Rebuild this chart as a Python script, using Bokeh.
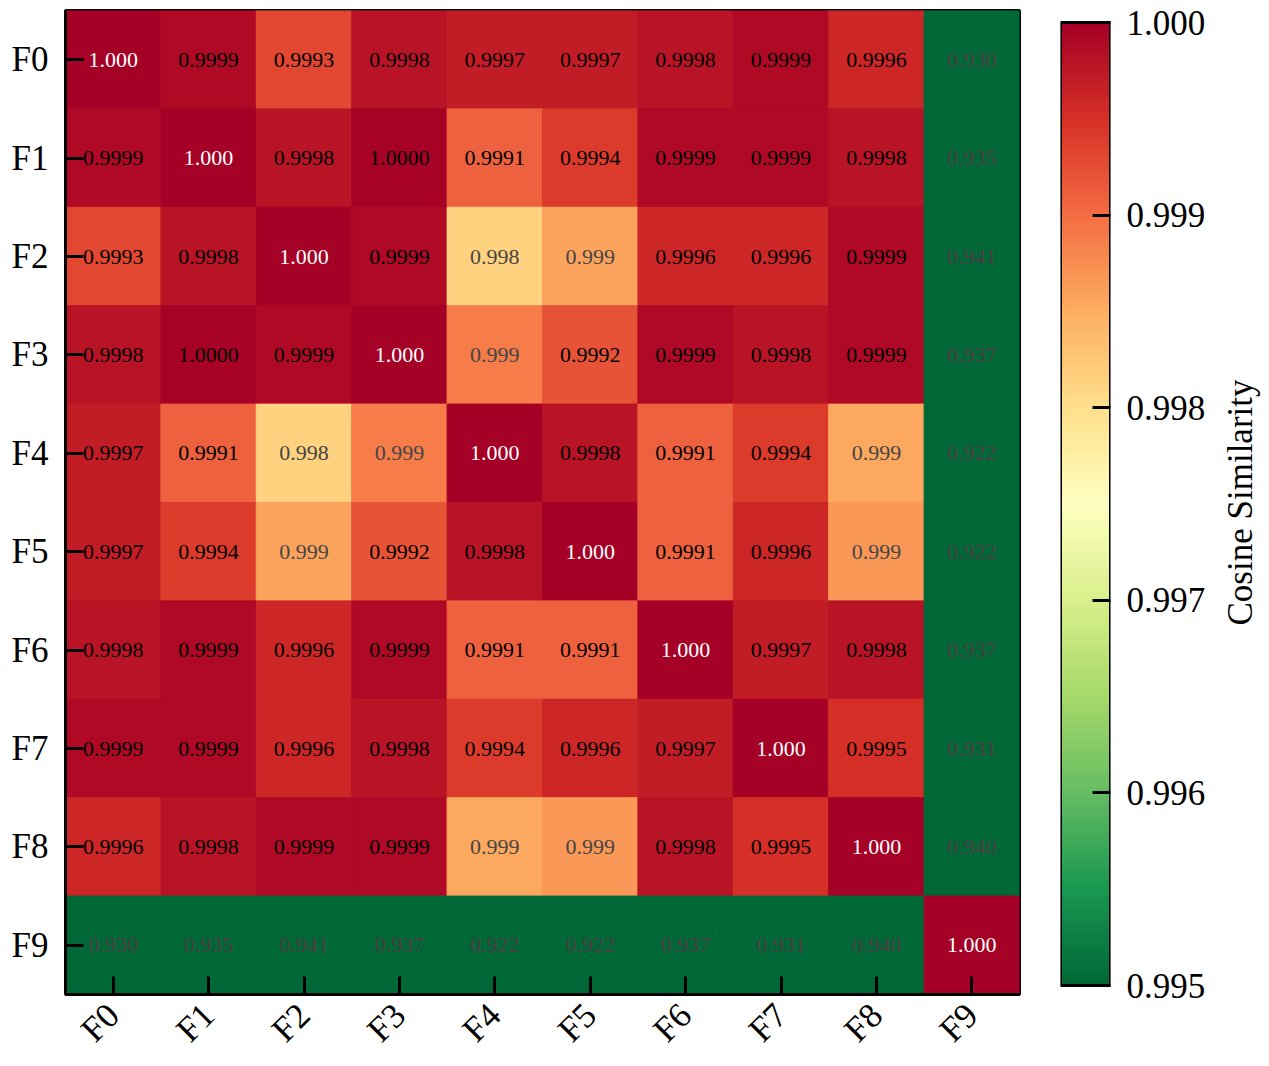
import numpy as np
from math import pi

from bokeh.plotting import figure
from bokeh.layouts import row
from bokeh.models import (ColumnDataSource, LinearColorMapper, FactorRange,
                          FixedTicker, Range1d)
from bokeh.transform import transform
from bokeh.core.properties import value
from bokeh.embed import file_html
from bokeh.resources import INLINE

# feature names
features = ["F0", "F1", "F2", "F3", "F4", "F5", "F6", "F7", "F8", "F9"]

# pairwise cosine similarity, one row per feature
sim_F0 = [1.0, 0.9999, 0.9993, 0.9998, 0.9997, 0.9997, 0.9998, 0.9999, 0.9996, 0.930]
sim_F1 = [0.9999, 1.0, 0.9998, 0.99997, 0.9991, 0.9994, 0.9999, 0.9999, 0.9998, 0.935]
sim_F2 = [0.9993, 0.9998, 1.0, 0.9999, 0.99813, 0.99858, 0.9996, 0.9996, 0.9999, 0.941]
sim_F3 = [0.9998, 0.99997, 0.9999, 1.0, 0.99888, 0.9992, 0.9999, 0.9998, 0.9999, 0.937]
sim_F4 = [0.9997, 0.9991, 0.99813, 0.99888, 1.0, 0.9998, 0.9991, 0.9994, 0.99855, 0.922]
sim_F5 = [0.9997, 0.9994, 0.99858, 0.9992, 0.9998, 1.0, 0.9991, 0.9996, 0.99866, 0.922]
sim_F6 = [0.9998, 0.9999, 0.9996, 0.9999, 0.9991, 0.9991, 1.0, 0.9997, 0.9998, 0.937]
sim_F7 = [0.9999, 0.9999, 0.9996, 0.9998, 0.9994, 0.9996, 0.9997, 1.0, 0.9995, 0.931]
sim_F8 = [0.9996, 0.9998, 0.9999, 0.9999, 0.99855, 0.99866, 0.9998, 0.9995, 1.0, 0.940]
sim_F9 = [0.930, 0.935, 0.941, 0.937, 0.922, 0.922, 0.937, 0.931, 0.940, 1.0]

# colour bar scale
cbar_low = 0.995
cbar_high = 1.0
cbar_ticks = [0.995, 0.996, 0.997, 0.998, 0.999, 1.000]
cbar_title = "Cosine Similarity"

matrix = [sim_F0, sim_F1, sim_F2, sim_F3, sim_F4, sim_F5, sim_F6, sim_F7, sim_F8, sim_F9]

# reversed RdYlGn, interpolated to a smooth 256-step palette
brewer = ['#006837', '#1a9850', '#66bd63', '#a6d96a', '#d9ef8b', '#ffffbf',
          '#fee08b', '#fdae61', '#f46d43', '#d73027', '#a50026']
rgb = np.array([[int(c[i:i + 2], 16) for i in (1, 3, 5)] for c in brewer], float)
pos = np.linspace(0, 1, len(brewer))
t = np.linspace(0, 1, 256)
palette = ["#%02x%02x%02x" % tuple(int(round(np.interp(tt, pos, rgb[:, k]))) for k in range(3))
           for tt in t]

mapper = LinearColorMapper(palette=palette, low=cbar_low, high=cbar_high,
                           low_color=palette[0], high_color=palette[-1])

xs, ys, vals, labels, tcolors = [], [], [], [], []
for i, rname in enumerate(features):
    for j, cname in enumerate(features):
        v = matrix[i][j]
        xs.append(cname)
        ys.append(rname)
        vals.append(v)
        if i == j:
            labels.append("1.000")
            tcolors.append("white")
        elif v >= 0.999:
            labels.append(f"{v:.4f}")
            tcolors.append("black")
        elif v >= 0.99:
            labels.append(f"{v:.3f}")
            tcolors.append("#454545")
        else:
            labels.append(f"{v:.3f}")
            tcolors.append("#4e3c44")

src = ColumnDataSource(dict(x=xs, y=ys, v=vals, label=labels, tc=tcolors))

SERIF = "Liberation Serif"
TOP, BOTTOM = 10, 72
H = 1066

p = figure(width=1040, height=H, output_backend="svg", toolbar_location=None,
           x_range=FactorRange(factors=features),
           y_range=FactorRange(factors=features[::-1]),
           min_border_left=65, min_border_right=21, min_border_top=TOP,
           min_border_bottom=BOTTOM)
p.rect(x="x", y="y", width=1, height=1, source=src,
       fill_color=transform("v", mapper), line_color=transform("v", mapper),
       line_width=1)
p.text(x="x", y="y", text="label", source=src, text_color="tc",
       text_align="center", text_baseline="middle",
       text_font=value(SERIF), text_font_size="22px")

p.grid.visible = False
p.outline_line_color = "black"
p.outline_line_width = 3
p.outline_line_alpha = 1
for ax in (p.xaxis[0], p.yaxis[0]):
    ax.axis_line_width = 3
    ax.axis_line_color = "black"
    ax.major_tick_line_width = 3
    ax.major_tick_line_color = "black"
    ax.major_tick_in = 18
    ax.major_tick_out = 0
    ax.minor_tick_line_color = None
    ax.major_label_text_font = SERIF
    ax.major_label_text_font_size = "35px"
    ax.major_label_text_color = "black"
p.yaxis.major_label_standoff = 17
p.xaxis.major_label_orientation = pi / 4
p.xaxis.major_label_standoff = 15

# colour bar drawn as its own narrow plot; its frame shares the heatmap's
# vertical extent, the bar itself sits slightly inset
bar_top_px, bar_bot_px = 22, 985
frame_top_px, frame_bot_px = TOP, H - BOTTOM
per_px = (cbar_high - cbar_low) / (bar_bot_px - bar_top_px)
cb = figure(width=175, height=H, output_backend="svg", toolbar_location=None,
            x_range=Range1d(0, 1),
            y_range=Range1d(cbar_low - (frame_bot_px - bar_bot_px) * per_px,
                            cbar_high + (bar_top_px - frame_top_px) * per_px),
            y_axis_location="right",
            min_border_left=20, min_border_right=105, min_border_top=TOP,
            min_border_bottom=BOTTOM)
grad = np.linspace(cbar_low, cbar_high, 512).reshape(512, 1)
cb.image(image=[grad], x=0, y=cbar_low, dw=1, dh=cbar_high - cbar_low,
         color_mapper=mapper)
cb.quad(left=0, right=1, bottom=cbar_low, top=cbar_high,
        fill_color=None, line_color="black", line_width=3)
cb.xaxis.visible = False
cb.grid.visible = False
cb.outline_line_color = None
ay = cb.yaxis[0]
ay.ticker = FixedTicker(ticks=cbar_ticks)
ay.major_label_overrides = {tk: f"{tk:.3f}" for tk in cbar_ticks}
ay.axis_line_color = None
ay.major_tick_line_width = 3
ay.major_tick_line_color = "black"
ay.major_tick_in = 18
ay.major_tick_out = 0
ay.minor_tick_line_color = None
ay.major_label_text_font = SERIF
ay.major_label_text_font_size = "35px"
ay.major_label_text_color = "black"
ay.major_label_standoff = 16

# colour bar title, read bottom to top, as the left-hand axis label of a slim strip
tp = figure(width=54, height=H, output_backend="svg", toolbar_location=None,
            x_range=Range1d(0, 1), y_range=Range1d(0, 1),
            min_border_left=44, min_border_right=0, min_border_top=TOP,
            min_border_bottom=BOTTOM)
tp.xaxis.visible = False
tp.grid.visible = False
tp.outline_line_color = None
ty = tp.yaxis[0]
ty.ticker = FixedTicker(ticks=[])
ty.axis_line_color = None
ty.major_tick_line_color = None
ty.minor_tick_line_color = None
ty.axis_label = cbar_title
ty.axis_label_text_font = SERIF
ty.axis_label_text_font_size = "35px"
ty.axis_label_text_font_style = "normal"
ty.axis_label_text_color = "black"
ty.axis_label_standoff = 0

layout = row(p, cb, tp, spacing=0)

with open("out.html", "w") as f:
    f.write(file_html(layout, INLINE))
